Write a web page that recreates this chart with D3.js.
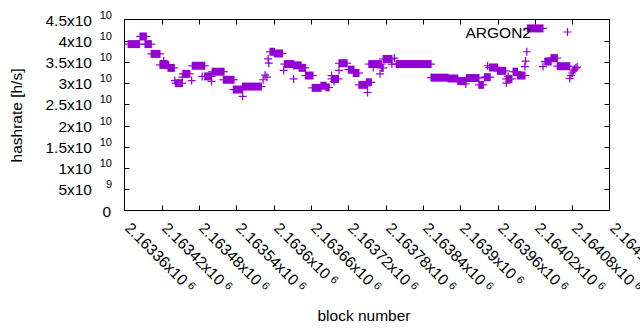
<!DOCTYPE html>
<html>
<head>
<meta charset="utf-8">
<script src="https://cdn.jsdelivr.net/npm/d3@7"></script>
<style>
body { margin: 0; background: #fff; }
svg { display: block; }
text { font-family: "Liberation Sans", Arial, sans-serif; fill: #000; }
</style>
</head>
<body>
<svg id="chart" width="640" height="330"></svg>
<script>
var width = 640, height = 330;
var plotLeft = 124.5, plotRight = 609.5, plotTop = 19.5, plotBottom = 210.5;
var pointColor = "#9400d3";
var markHalf = 4;
var fontSize = "15.5px", supSize = "11px";

// runs of blocks with the same hashrate (block from, block to, h/s)
var runStart = [2163366, 2163385, 2163393, 2163403, 2163417, 2163430, 2163442, 2163454, 2163469, 2163489,
    2163501, 2163519, 2163535, 2163550, 2163594, 2163601, 2163617, 2163632, 2163641, 2163651,
    2163662, 2163676, 2163684, 2163693, 2163705, 2163720, 2163728, 2163737, 2163749, 2163753,
    2163773, 2163776, 2163797, 2163853, 2163880, 2163896, 2163910, 2163930, 2163939, 2163947,
    2163960, 2163974, 2163985, 2163992, 2164008, 2164036, 2164046, 2164056];
var runEnd = [2163384, 2163395, 2163403, 2163417, 2163431, 2163440, 2163453, 2163465, 2163489, 2163500,
    2163520, 2163536, 2163550, 2163580, 2163601, 2163614, 2163632, 2163644, 2163651, 2163663,
    2163676, 2163684, 2163689, 2163704, 2163718, 2163729, 2163737, 2163751, 2163757, 2163773,
    2163776, 2163790, 2163853, 2163880, 2163896, 2163909, 2163930, 2163937, 2163948, 2163960,
    2163973, 2163983, 2163992, 2164004, 2164033, 2164046, 2164056, 2164076];
var runValue = [3.92e10, 4.10e10, 3.92e10, 3.69e10, 3.43e10, 3.36e10, 3.00e10, 3.22e10, 3.41e10, 3.16e10,
    3.27e10, 3.08e10, 2.85e10, 2.92e10, 3.74e10, 3.70e10, 3.45e10, 3.42e10, 3.36e10, 3.18e10,
    2.89e10, 2.94e10, 2.90e10, 3.10e10, 3.47e10, 3.32e10, 3.24e10, 2.96e10, 3.02e10, 3.45e10,
    3.36e10, 3.57e10, 3.45e10, 3.13e10, 3.11e10, 3.05e10, 3.12e10, 2.96e10, 3.14e10, 3.37e10,
    3.29e10, 3.10e10, 3.27e10, 3.18e10, 4.29e10, 3.51e10, 3.59e10, 3.40e10];

// single blocks
var singleBlock = [2163423, 2163441, 2163453, 2163468, 2163485, 2163500, 2163550, 2163583, 2163586, 2163589,
    2163591, 2163592, 2163616, 2163632, 2163693, 2163697, 2163705, 2163751, 2163760, 2163771,
    2163790, 2163794, 2163909, 2163940, 2163944, 2163974, 2163977, 2164004, 2164005, 2164007,
    2164033, 2164076, 2164078, 2164080, 2164082, 2164084, 2164086, 2164088];
var singleValue = [3.53e10, 3.06e10, 3.14e10, 3.06e10, 3.16e10, 3.04e10, 2.69e10, 3.08e10, 3.19e10, 3.14e10,
    3.57e10, 3.47e10, 3.30e10, 3.10e10, 3.18e10, 3.04e10, 3.30e10, 2.78e10, 3.37e10, 3.22e10,
    3.45e10, 3.59e10, 2.98e10, 3.14e10, 3.41e10, 3.00e10, 3.16e10, 3.39e10, 3.52e10, 3.74e10,
    3.39e10, 3.11e10, 3.18e10, 3.24e10, 3.29e10, 3.33e10, 3.36e10, 3.38e10];

var xTicks = [2163360, 2163420, 2163480, 2163540, 2163600, 2163660, 2163720, 2163780,
    2163840, 2163900, 2163960, 2164020, 2164080, 2164140];
var yTicks = [0, 5e9, 1e10, 1.5e10, 2e10, 2.5e10, 3e10, 3.5e10, 4e10, 4.5e10];
var seriesName = "ARGON2";

var x = d3.scaleLinear().domain([2163360, 2164140]).range([plotLeft, plotRight]);
var y = d3.scaleLinear().domain([0, 4.5e10]).range([plotBottom, plotTop]);

var svg = d3.select("#chart");

function plusPath(cx, cy) {
    return "M" + (cx - markHalf) + "," + cy + "H" + (cx + markHalf) +
        "M" + cx + "," + (cy - markHalf) + "V" + (cy + markHalf);
}

// mantissa / exponent split like gnuplot's "%hx10^{%T}"
function splitNumber(v) {
    if (v === 0) return null;
    var e = Math.floor(Math.log10(v) + 1e-9);
    var m = +(v / Math.pow(10, e)).toFixed(6);
    return { m: String(m), e: String(e) };
}

// y ticks and labels
yTicks.forEach(function(t) {
    var ty = Math.round(y(t)) + 0.5;
    if (t > 0 && t < 4.5e10) {
        svg.append("path").attr("d", "M" + plotLeft + "," + ty + "h5M" + plotRight + "," + ty + "h-5")
            .attr("stroke", "#000").attr("stroke-width", 1);
    }
    var s = splitNumber(t);
    if (!s) {
        svg.append("text").attr("x", 111).attr("y", ty + 5).attr("text-anchor", "end")
            .style("font-size", fontSize).text("0");
        return;
    }
    svg.append("text").attr("x", 92).attr("y", ty + 5).attr("text-anchor", "end")
        .style("font-size", fontSize).text(s.m + "x10");
    svg.append("text").attr("x", 112).attr("y", ty - 1.5).attr("text-anchor", "end")
        .style("font-size", supSize).text(s.e);
});

// x ticks and labels
xTicks.forEach(function(t) {
    var tx = Math.round(x(t)) + 0.5;
    if (t > 2163360 && t < 2164140) {
        svg.append("path").attr("d", "M" + tx + "," + plotBottom + "v-5M" + tx + "," + plotTop + "v5")
            .attr("stroke", "#000").attr("stroke-width", 1);
    }
    var s = splitNumber(t);
    var label = svg.append("text")
        .attr("transform", "translate(" + (tx - 1.5) + ",229) rotate(45)")
        .style("font-size", fontSize);
    label.append("tspan").text(s.m + "x10");
    label.append("tspan").attr("dx", 4).attr("dy", -4).style("font-size", supSize).text(s.e);
});

// border
svg.append("rect")
    .attr("x", plotLeft).attr("y", plotTop)
    .attr("width", plotRight - plotLeft).attr("height", plotBottom - plotTop)
    .attr("fill", "none").attr("stroke", "#000").attr("stroke-width", 1);

// data
var marks = svg.append("g").attr("stroke", pointColor).attr("fill", pointColor);

runStart.forEach(function(b, i) {
    var x1 = x(b), x2 = x(runEnd[i]), yy = y(runValue[i]);
    marks.append("path")
        .attr("d", "M" + (x1 - markHalf) + "," + yy + "H" + (x2 + markHalf))
        .attr("stroke-width", 1.2).attr("fill", "none");
    marks.append("rect")
        .attr("x", x1 - 0.6).attr("y", yy - markHalf)
        .attr("width", x2 - x1 + 1.2).attr("height", markHalf * 2)
        .attr("stroke", "none");
});

singleBlock.forEach(function(b, i) {
    marks.append("path").attr("d", plusPath(x(b), y(singleValue[i])))
        .attr("stroke-width", 1.2).attr("fill", "none");
});

// key
svg.append("text").attr("x", 531).attr("y", 38).attr("text-anchor", "end")
    .style("font-size", fontSize).text(seriesName);
svg.append("path").attr("d", plusPath(567.5, 32))
    .attr("stroke", pointColor).attr("stroke-width", 1.2).attr("fill", "none");

// axis titles
svg.append("text").attr("transform", "translate(22,115.5) rotate(-90)")
    .attr("text-anchor", "middle").style("font-size", fontSize).text("hashrate [h/s]");
svg.append("text").attr("x", 364).attr("y", 321).attr("text-anchor", "middle")
    .style("font-size", fontSize).text("block number");
</script>
</body>
</html>
